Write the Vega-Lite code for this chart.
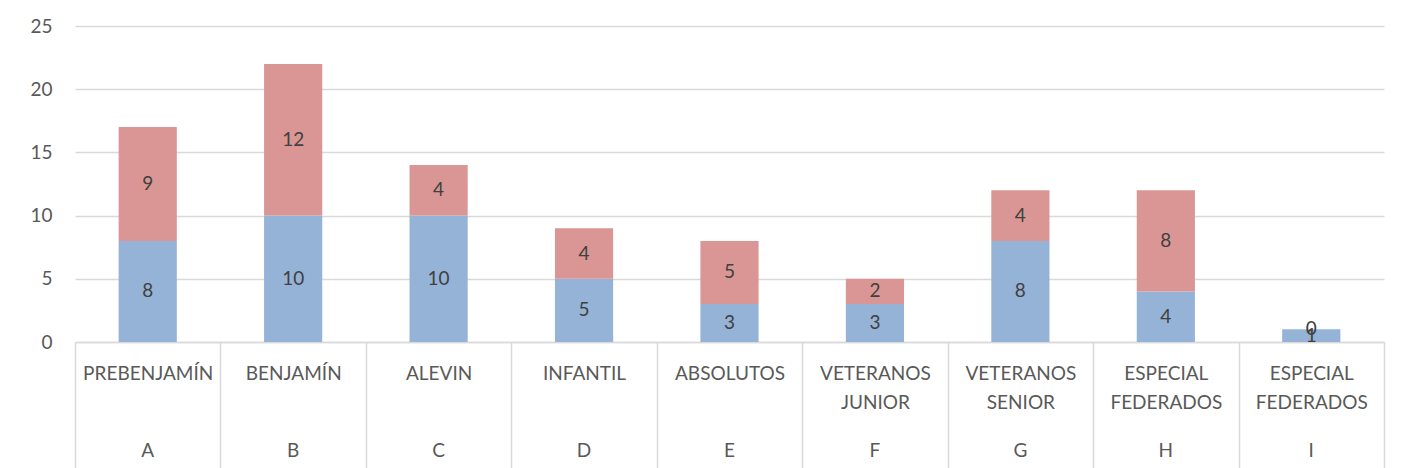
{
  "$schema": "https://vega.github.io/schema/vega-lite/v6.json",
  "width": 1309,
  "height": 316,
  "autosize": "none",
  "padding": {"left": 75, "top": 26, "right": 19, "bottom": 126},
  "background": "white",
  "config": {"view": {"stroke": null}, "font": "Lato"},
  "data": {
    "values": [
      {"cat": "PREBENJAMÍN|A", "serie": "azul", "orden": 1, "valor": 8},
      {"cat": "PREBENJAMÍN|A", "serie": "rojo", "orden": 2, "valor": 9},
      {"cat": "BENJAMÍN|B", "serie": "azul", "orden": 1, "valor": 10},
      {"cat": "BENJAMÍN|B", "serie": "rojo", "orden": 2, "valor": 12},
      {"cat": "ALEVIN|C", "serie": "azul", "orden": 1, "valor": 10},
      {"cat": "ALEVIN|C", "serie": "rojo", "orden": 2, "valor": 4},
      {"cat": "INFANTIL|D", "serie": "azul", "orden": 1, "valor": 5},
      {"cat": "INFANTIL|D", "serie": "rojo", "orden": 2, "valor": 4},
      {"cat": "ABSOLUTOS|E", "serie": "azul", "orden": 1, "valor": 3},
      {"cat": "ABSOLUTOS|E", "serie": "rojo", "orden": 2, "valor": 5},
      {"cat": "VETERANOS|JUNIOR|F", "serie": "azul", "orden": 1, "valor": 3},
      {"cat": "VETERANOS|JUNIOR|F", "serie": "rojo", "orden": 2, "valor": 2},
      {"cat": "VETERANOS|SENIOR|G", "serie": "azul", "orden": 1, "valor": 8},
      {"cat": "VETERANOS|SENIOR|G", "serie": "rojo", "orden": 2, "valor": 4},
      {"cat": "ESPECIAL|FEDERADOS|H", "serie": "azul", "orden": 1, "valor": 4},
      {"cat": "ESPECIAL|FEDERADOS|H", "serie": "rojo", "orden": 2, "valor": 8},
      {"cat": "ESPECIAL|FEDERADOS|I", "serie": "azul", "orden": 1, "valor": 1},
      {"cat": "ESPECIAL|FEDERADOS|I", "serie": "rojo", "orden": 2, "valor": 0}
    ]
  },
  "encoding": {
    "y": {
      "field": "valor",
      "type": "quantitative",
      "stack": "zero",
      "scale": {"domain": [0, 25]},
      "axis": {
        "title": null,
        "values": [0, 5, 10, 15, 20, 25],
        "domain": false,
        "ticks": false,
        "labelFontSize": 19,
        "labelColor": "#595959",
        "labelPadding": 23,
        "gridColor": "#d9d9d9",
        "gridWidth": 1.5
      }
    },
    "order": {"field": "orden", "type": "quantitative"}
  },
  "layer": [
    {
      "mark": {"type": "bar", "width": {"band": 0.4}},
      "encoding": {
        "x": {
          "field": "cat",
          "type": "nominal",
          "sort": null,
          "scale": {"paddingInner": 0, "paddingOuter": 0},
          "axis": {
            "title": null,
            "labelAngle": 0,
            "labelExpr": "isValid(datum.value) ? slice(split(datum.value, '|'), 0, -1) : ''",
            "labelFontSize": 19,
            "labelColor": "#595959",
            "labelLineHeight": 29,
            "labelBaseline": "top",
            "labelPadding": -104,
            "tickBand": "extent",
            "tickSize": 126,
            "tickColor": "#d9d9d9",
            "tickWidth": 1.5,
            "domainColor": "#d9d9d9",
            "domainWidth": 1.5
          }
        },
        "color": {
          "field": "serie",
          "type": "nominal",
          "scale": {"domain": ["azul", "rojo"], "range": ["#95b3d7", "#d99694"]},
          "legend": null
        }
      }
    },
    {
      "mark": {"type": "text", "fontSize": 19, "color": "#404040", "baseline": "middle"},
      "encoding": {
        "x": {
          "field": "cat",
          "type": "nominal",
          "sort": null,
          "axis": {
            "title": null,
            "orient": "bottom",
            "offset": 0,
            "labelAngle": 0,
            "labelExpr": "isValid(datum.value) ? peek(split(datum.value, '|')) : ''",
            "labelFontSize": 19,
            "labelColor": "#595959",
            "labelBaseline": "top",
            "labelPadding": 99,
            "ticks": false,
            "domain": false
          }
        },
        "y": {"field": "valor", "type": "quantitative", "stack": "zero", "bandPosition": 0.5},
        "text": {"field": "valor", "type": "quantitative"}
      }
    }
  ],
  "resolve": {"axis": {"x": "independent"}}
}
